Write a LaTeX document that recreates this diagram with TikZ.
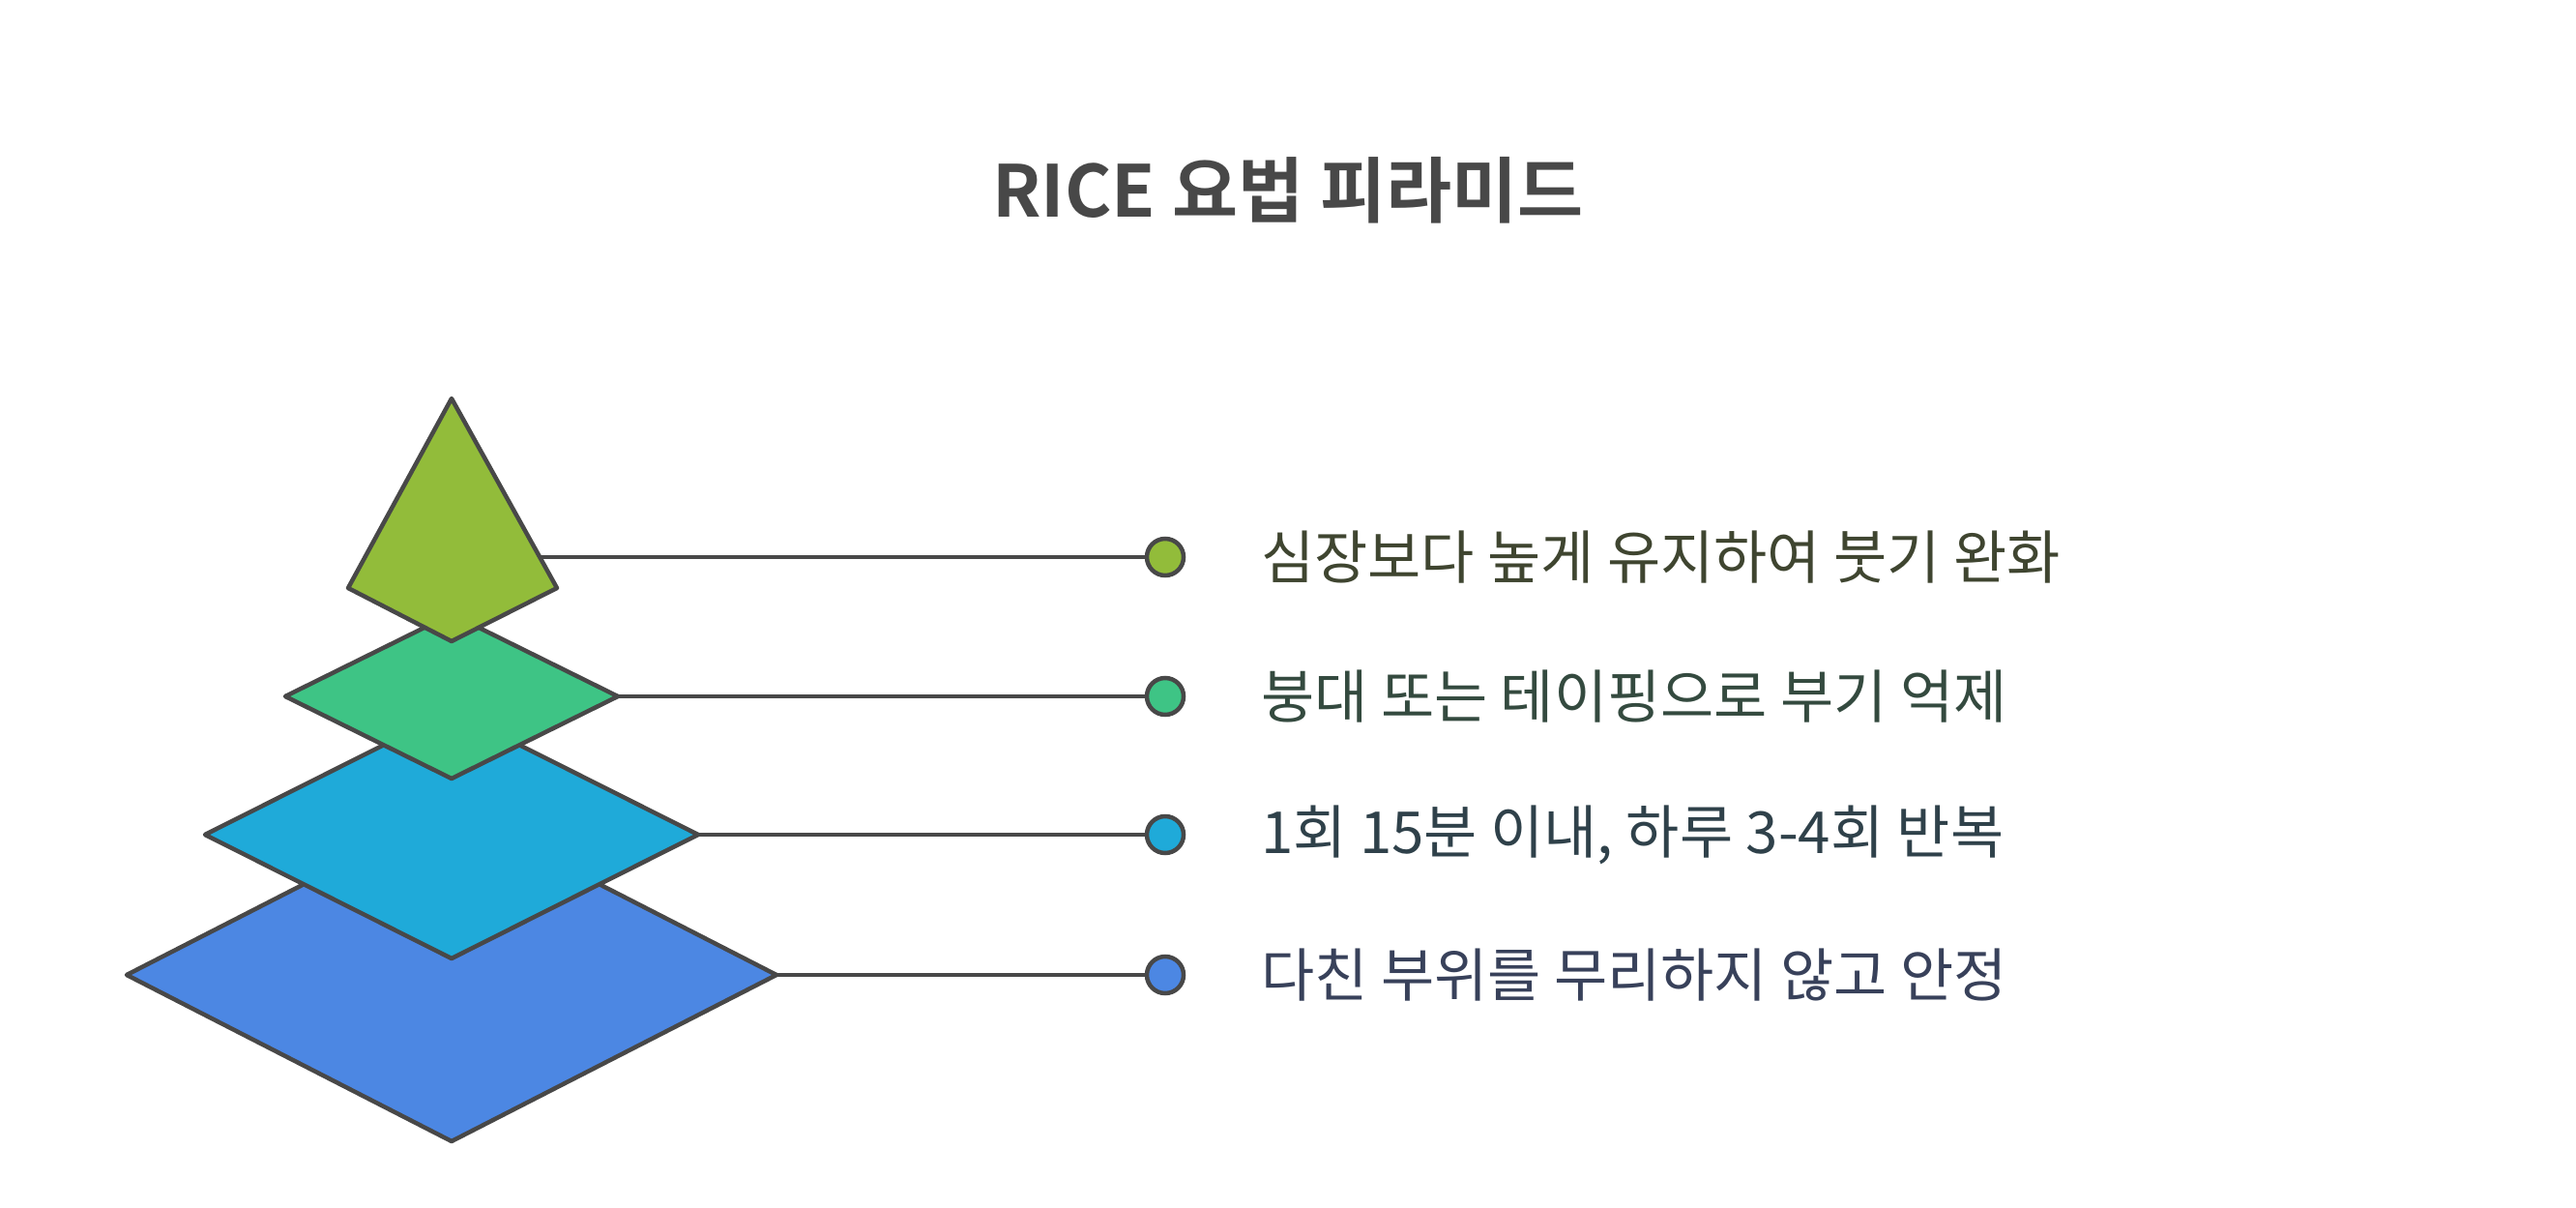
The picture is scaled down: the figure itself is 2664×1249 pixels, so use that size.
\documentclass[tikz,border=0pt]{standalone}
\usepackage{fontspec}
\setmainfont{Noto Sans CJK KR}[BoldFont={Noto Sans CJK KR Bold}]
\usepackage{tikz}

\definecolor{edge}{HTML}{484848}
\definecolor{topc}{HTML}{92BC3A}
\definecolor{greenc}{HTML}{3EC485}
\definecolor{cyanc}{HTML}{1FAAD9}
\definecolor{bluec}{HTML}{4C87E3}
\definecolor{txtA}{HTML}{3F4530}
\definecolor{txtB}{HTML}{344A3F}
\definecolor{txtC}{HTML}{2F414A}
\definecolor{txtD}{HTML}{38415A}

\begin{document}
\begin{tikzpicture}[x=1pt,y=-1pt,
  tier/.style={draw=edge,line width=4.5pt,line join=round},
  link/.style={draw=edge,line width=4.5pt},
  dot/.style={circle,draw=edge,line width=4.5pt,minimum size=38pt,inner sep=0pt},
  lbl/.style={anchor=west,inner sep=0pt,font=\fontsize{60}{68}\selectfont}]

      \useasboundingbox (0,0) rectangle (2664,1249);

      \node[font=\fontsize{74}{88}\selectfont\bfseries,text=edge] (title) at (1332,197) {RICE 요법 피라미드};

      % pyramid, bottom tier first
      \draw[tier,fill=bluec]  (131,1008) -- (467,836) -- (803,1008) -- (467,1180) -- cycle;
      \draw[tier,fill=cyanc]  (212,863) -- (467,735) -- (722,863) -- (467,991) -- cycle;
      \draw[tier,fill=greenc] (295,720) -- (467,635) -- (639,720) -- (467,805) -- cycle;
      \draw[tier,fill=topc]   (467,412) -- (576,608) -- (467,663) -- (360,608) -- cycle;

      \coordinate (t1) at (558,576);
      \coordinate (t2) at (639,720);
      \coordinate (t3) at (722,863);
      \coordinate (t4) at (803,1008);

      \node[dot,fill=topc]   (d1) at (1205,576)  {};
      \node[dot,fill=greenc] (d2) at (1205,720)  {};
      \node[dot,fill=cyanc]  (d3) at (1205,863)  {};
      \node[dot,fill=bluec]  (d4) at (1205,1008) {};

      \path[link] (t1) -- (d1) (t2) -- (d2) (t3) -- (d3) (t4) -- (d4);

      \node[lbl,text=txtA] (l1) at (1304,576)  {심장보다 높게 유지하여 붓기 완화};
      \node[lbl,text=txtB] (l2) at (1304,720)  {붕대 또는 테이핑으로 부기 억제};
      \node[lbl,text=txtC] (l3) at (1304,863)  {1회 15분 이내, 하루 3-4회 반복};
      \node[lbl,text=txtD] (l4) at (1304,1008) {다친 부위를 무리하지 않고 안정};
\end{tikzpicture}
\end{document}
